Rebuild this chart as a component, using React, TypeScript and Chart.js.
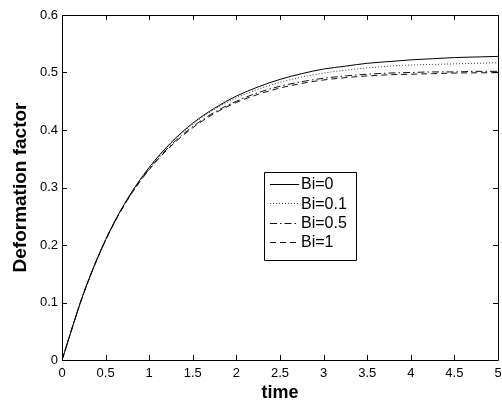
import React, { useEffect, useRef } from "react";
import { Chart, registerables } from "chart.js";

Chart.register(...registerables);

const times = [0, 0.25, 0.5, 0.75, 1, 1.25, 1.5, 1.75, 2, 2.25, 2.5, 2.75, 3, 3.25, 3.5, 3.75, 4, 4.25, 4.5, 4.75, 5];
const bi0 = [0, 0.117, 0.209, 0.28, 0.335, 0.378, 0.412, 0.438, 0.459, 0.475, 0.488, 0.498, 0.506, 0.511, 0.516, 0.519, 0.522, 0.524, 0.526, 0.527, 0.528];
const bi01 = [0, 0.117, 0.209, 0.28, 0.334, 0.377, 0.41, 0.436, 0.456, 0.471, 0.483, 0.492, 0.499, 0.504, 0.508, 0.511, 0.513, 0.514, 0.515, 0.516, 0.517];
const bi05 = [0, 0.117, 0.209, 0.279, 0.332, 0.374, 0.406, 0.431, 0.45, 0.465, 0.476, 0.484, 0.49, 0.494, 0.497, 0.499, 0.5, 0.501, 0.501, 0.502, 0.502];
const bi1 = [0, 0.116, 0.208, 0.278, 0.331, 0.372, 0.404, 0.429, 0.448, 0.462, 0.473, 0.481, 0.487, 0.491, 0.494, 0.496, 0.497, 0.498, 0.499, 0.4995, 0.4997];

const seriesLabels = ["Bi=0", "Bi=0.1", "Bi=0.5", "Bi=1"];
const xTickValues = [0, 0.5, 1, 1.5, 2, 2.5, 3, 3.5, 4, 4.5, 5];
const xTickLabels = ["0", "0.5", "1", "1.5", "2", "2.5", "3", "3.5", "4", "4.5", "5"];
const yTickValues = [0, 0.1, 0.2, 0.3, 0.4, 0.5, 0.6];
const yTickLabels = ["0", "0.1", "0.2", "0.3", "0.4", "0.5", "0.6"];

const dashes: number[][] = [[], [1, 2], [7, 3, 1.5, 3], [6, 4]];
const colors = ["#000000", "#333333", "#111111", "#111111"];

const frameTicksPlugin = {
  id: "frameTicks",
  afterDatasetsDraw(chart: any) {
    const { ctx, chartArea } = chart;
    const { left, right, top, bottom } = chartArea;
    const xs = chart.scales.x;
    const ys = chart.scales.y;
    const tl = 5;
    ctx.save();
    ctx.strokeStyle = "#000";
    ctx.lineWidth = 1;
    ctx.setLineDash([]);
    ctx.beginPath();
    ctx.rect(Math.round(left) + 0.5, Math.round(top) + 0.5, Math.round(right) - Math.round(left), Math.round(bottom) - Math.round(top));
    ctx.stroke();
    ctx.beginPath();
    xTickValues.forEach((v) => {
      const px = Math.round(xs.getPixelForValue(v)) + 0.5;
      ctx.moveTo(px, bottom);
      ctx.lineTo(px, bottom - tl);
      ctx.moveTo(px, top);
      ctx.lineTo(px, top + tl);
    });
    yTickValues.forEach((v) => {
      const py = Math.round(ys.getPixelForValue(v)) + 0.5;
      ctx.moveTo(left, py);
      ctx.lineTo(left + tl, py);
      ctx.moveTo(right, py);
      ctx.lineTo(right - tl, py);
    });
    ctx.stroke();

    // legend
    const lx = left + 202;
    const ly = top + 157;
    const lw = 92;
    const lh = 88;
    ctx.fillStyle = "#fff";
    ctx.fillRect(lx, ly, lw, lh);
    ctx.beginPath();
    ctx.rect(Math.round(lx) + 0.5, Math.round(ly) + 0.5, lw, lh);
    ctx.stroke();
    ctx.font = "16px 'Liberation Sans', Arial, sans-serif";
    ctx.textBaseline = "middle";
    ctx.textAlign = "left";
    chart.data.datasets.forEach((ds: any, i: number) => {
      const y = ly + 12 + i * 19.3;
      ctx.save();
      ctx.strokeStyle = ds.borderColor;
      ctx.lineWidth = ds.borderWidth;
      ctx.setLineDash(ds.borderDash || []);
      ctx.beginPath();
      ctx.moveTo(lx + 6, Math.round(y) + 0.5);
      ctx.lineTo(lx + 35, Math.round(y) + 0.5);
      ctx.stroke();
      ctx.restore();
      ctx.fillStyle = "#000";
      ctx.fillText(ds.label, lx + 37, y + 1);
    });
    ctx.restore();
  },
};

export default function App() {
  const ref = useRef<HTMLCanvasElement>(null);
  useEffect(() => {
    const series = [bi0, bi01, bi05, bi1];
    const chart = new Chart(ref.current!, {
      type: "line",
      data: {
        datasets: series.map((s, i) => ({
          label: seriesLabels[i],
          data: times.map((t, j) => ({ x: t, y: s[j] })),
          borderColor: colors[i],
          borderWidth: 1,
          borderDash: dashes[i],
          pointRadius: 0,
          fill: false,
          cubicInterpolationMode: "monotone" as const,
        })),
      },
      options: {
        responsive: false,
        animation: false,
        layout: { padding: { top: 15, right: 4, left: 0, bottom: 0 } },
        plugins: { legend: { display: false }, tooltip: { enabled: false } },
        scales: {
          x: {
            type: "linear",
            min: 0,
            max: 5,
            afterBuildTicks: (scale: any) => {
              scale.ticks = xTickValues.map((v) => ({ value: v }));
            },
            afterFit: (scale: any) => {
              scale.height = 45;
              scale.paddingRight = 0;
              scale.paddingLeft = 0;
            },
            grid: { display: false, drawTicks: false },
            border: { display: false },
            ticks: {
              autoSkip: false,
              maxRotation: 0,
              padding: 6,
              color: "#000",
              font: { family: "'Liberation Sans', Arial, sans-serif", size: 13 },
              callback: (_v: any, i: number) => xTickLabels[i],
            },
            title: {
              display: true,
              text: "time",
              color: "#000",
              font: { family: "'Liberation Sans', Arial, sans-serif", size: 18, weight: "bold" },
              padding: { top: 0, bottom: 1 },
            },
          },
          y: {
            type: "linear",
            min: 0,
            max: 0.6,
            afterBuildTicks: (scale: any) => {
              scale.ticks = yTickValues.map((v) => ({ value: v }));
            },
            afterFit: (scale: any) => {
              scale.width = 62;
              scale.paddingTop = 0;
              scale.paddingBottom = 0;
            },
            grid: { display: false, drawTicks: false },
            border: { display: false },
            ticks: {
              autoSkip: false,
              padding: 4,
              color: "#000",
              font: { family: "'Liberation Sans', Arial, sans-serif", size: 13 },
              callback: (_v: any, i: number) => yTickLabels[i],
            },
            title: {
              display: true,
              text: "Deformation factor",
              color: "#000",
              font: { family: "'Liberation Sans', Arial, sans-serif", size: 19, weight: "bold" },
              padding: { top: 9, bottom: 0 },
            },
          },
        },
      },
      plugins: [frameTicksPlugin],
    });
    return () => chart.destroy();
  }, []);
  return (
    <div style={{ position: "fixed", left: 0, top: 0, width: 502, height: 405, background: "#fff" }}>
      <canvas ref={ref} width={502} height={405} style={{ display: "block" }} />
    </div>
  );
}
